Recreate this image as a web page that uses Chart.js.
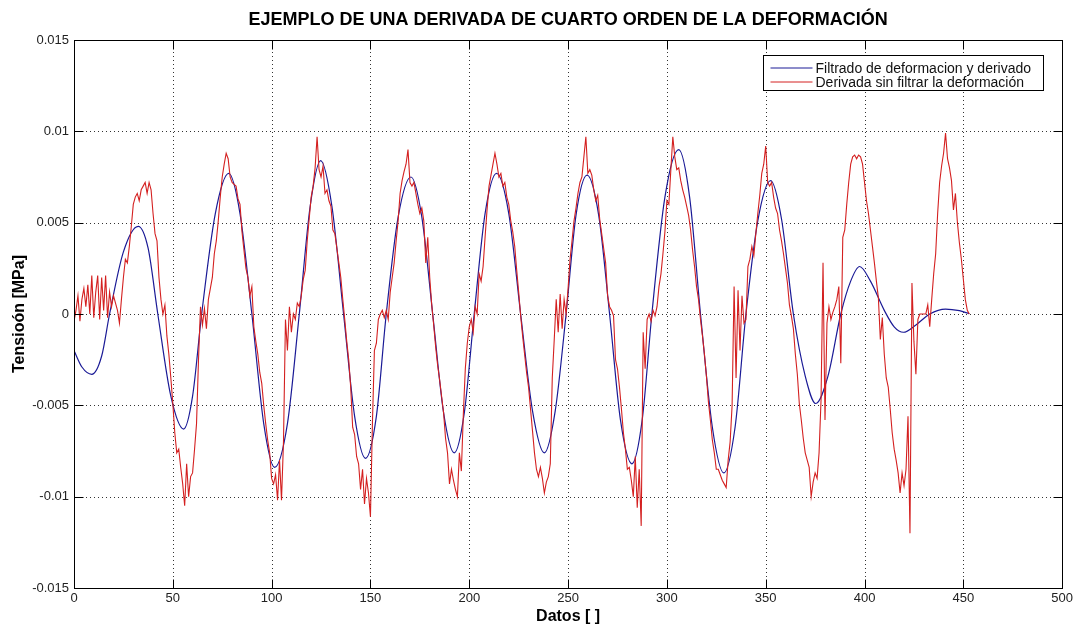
<!DOCTYPE html>
<html>
<head>
<meta charset="utf-8">
<script src="https://cdn.jsdelivr.net/npm/chart.js@4.4.1/dist/chart.umd.min.js"></script>
<style>
html,body{margin:0;padding:0;background:#fff;}
#wrap{width:1076px;height:624px;position:relative;}
</style>
</head>
<body>
<div id="wrap"><canvas id="c" width="1076" height="624"></canvas></div>
<script>
// ---------- DATA ----------
const chartTitle = 'EJEMPLO DE UNA DERIVADA DE CUARTO ORDEN DE LA DEFORMACIÓN';
const xAxisTitle = 'Datos [ ]';
const yAxisTitle = 'Tensioón [MPa]';
const seriesNames = ['Filtrado de deformacion y derivado', 'Derivada sin filtrar la deformación'];

const xTickValues = [0, 50, 100, 150, 200, 250, 300, 350, 400, 450, 500];
const xTickLabels = ['0', '50', '100', '150', '200', '250', '300', '350', '400', '450', '500'];
const yTickValues = [-0.015, -0.01, -0.005, 0, 0.005, 0.01, 0.015];
const yTickLabels = ['-0.015', '-0.01', '-0.005', '0', '0.005', '0.01', '0.015'];

// Filtered (blue) series: sample positions and values
const blueX = [0, 4, 9, 14, 18, 25, 32.5, 37.5, 42.4, 49, 55.5, 60, 64.6, 71.5, 78.3, 84, 90, 96, 101.5, 108, 114,
  119.5, 124.8, 130.5, 136.4, 142, 147.5, 153, 158, 164, 170.5, 176, 181.5, 187, 192.4, 197.5, 202.5, 208, 213.8, 220,
  226, 232, 238, 243.5, 249, 254, 259.6, 265.5, 271, 276.5, 282.3, 287.5, 292.4, 299, 306, 311.5, 317, 323, 328.8,
  334.5, 340, 346, 352.5, 358, 364, 370, 375.3, 381.5, 388, 393, 397.5, 403, 410, 415, 419.7, 426, 433, 441, 448, 453];
const blueY = [-0.0020, -0.0029, -0.0033, -0.0023, 0, 0.0034, 0.0048, 0.0036, 0, -0.0045, -0.0063, -0.0045, 0, 0.0055,
  0.0077, 0.0055, 0, -0.0060, -0.0084, -0.0060, 0, 0.0059, 0.0084, 0.0059, 0, -0.0056, -0.0079, -0.0056, 0, 0.0053,
  0.0075, 0.0053, 0, -0.0054, -0.0076, -0.0054, 0, 0.0055, 0.0077, 0.0055, 0, -0.0053, -0.0076, -0.0053, 0, 0.0054,
  0.0076, 0.0054, 0, -0.0058, -0.0082, -0.0058, 0, 0.0064, 0.0090, 0.0064, 0, -0.0062, -0.0087, -0.0062, 0, 0.0051,
  0.0073, 0.0052, 0, -0.0034, -0.0049, -0.0034, 0, 0.0018, 0.0026, 0.0018, 0.0002, -0.0007, -0.0010, -0.0006, 0,
  0.00027, 0.00018, 0.00002];

// Unfiltered (red) series: one value per sample index 0..453
const redY = [
  -0.0004, 0.0002, 0.0010, -0.0004, 0.0008, 0.0014, 0.0004, 0.0016, 0, 0.0021,
  -0.0002, 0.0012, 0.0021, -0.0003, 0.0020, 0.0002, 0.0021, -0.0002, 0.0012, 0.0004,
  0.0010, 0.0006, 0.0002, -0.0005, 0.0008, 0.0020, 0.0030, 0.0028, 0.0037, 0.0048,
  0.0060, 0.0064, 0.0066, 0.0062, 0.0068, 0.0070, 0.0072, 0.0066, 0.0072, 0.0068,
  0.0055, 0.0044, 0.0040, 0.0020, 0.0008, 0, 0.0005, -0.0012, -0.0022, -0.0035,
  -0.0049, -0.0065, -0.0076, -0.0074, -0.0084, -0.0093, -0.0105, -0.0082, -0.0100, -0.0089,
  -0.0087, -0.0074, -0.0060, -0.0025, 0.0004, -0.0006, 0.0003, -0.0008, 0.0008, 0.0014,
  0.0020, 0.0033, 0.0040, 0.0051, 0.0064, 0.0075, 0.0082, 0.0088, 0.0085, 0.0075,
  0.0072, 0.0071, 0.0070, 0.0063, 0.0060, 0.0045, 0.0035, 0.0025, 0.0020, 0.0010,
  0.0015, -0.0007, -0.0015, -0.0022, -0.0032, -0.0038, -0.0050, -0.0060, -0.0069, -0.0076,
  -0.0090, -0.0093, -0.0088, -0.0102, -0.0080, -0.0102, -0.0070, -0.0003, -0.0020, 0.0004,
  -0.0010, 0, -0.0003, 0.0006, 0.0004, 0.0010, 0.0019, 0.0024, 0.0040, 0.0052,
  0.0064, 0.0070, 0.0080, 0.0097, 0.0079, 0.0075, 0.0081, 0.0066, 0.0068, 0.0062,
  0.0059, 0.0046, 0.0044, 0.0036, 0.0028, 0.0020, 0.0008, -0.0003, -0.0015, -0.0025,
  -0.0040, -0.0062, -0.0066, -0.0078, -0.0082, -0.0096, -0.0085, -0.0104, -0.0090, -0.0098,
  -0.0111, -0.0060, -0.0020, -0.0016, -0.0003, 0, 0.0002, -0.0002, 0.0002, -0.0003,
  0.0012, 0.0020, 0.0028, 0.0040, 0.0051, 0.0066, 0.0073, 0.0078, 0.0082, 0.0090,
  0.0072, 0.0070, 0.0072, 0.0066, 0.0060, 0.0055, 0.0058, 0.0051, 0.0028, 0.0042,
  0.0020, 0.0005, -0.0006, -0.0018, -0.0028, -0.0036, -0.0045, -0.0054, -0.0068, -0.0076,
  -0.0093, -0.0085, -0.0091, -0.0096, -0.0100, -0.0076, -0.0086, -0.0055, -0.0030, -0.0016,
  -0.0007, -0.0003, -0.0010, 0.0004, 0, 0.0022, 0.0018, 0.0026, 0.0042, 0.0057,
  0.0070, 0.0076, 0.0082, 0.0088, 0.0082, 0.0075, 0.0077, 0.0070, 0.0072, 0.0064,
  0.0060, 0.0051, 0.0045, 0.0037, 0.0024, 0.0012, -0.0001, -0.0012, -0.0022, -0.0032,
  -0.0040, -0.0052, -0.0064, -0.0076, -0.0085, -0.0089, -0.0084, -0.0090, -0.0098, -0.0092,
  -0.0089, -0.0082, -0.0035, -0.0014, 0.0008, -0.0010, 0.0011, -0.0008, 0.0008, 0,
  0.0014, 0.0030, 0.0040, 0.0051, 0.0058, 0.0066, 0.0072, 0.0075, 0.0086, 0.0097,
  0.0077, 0.0079, 0.0076, 0.0068, 0.0062, 0.0065, 0.0052, 0.0044, 0.0036, 0.0028,
  0.0010, 0.0004, 0.0002, -0.0001, -0.0025, -0.0030, -0.0040, -0.0052, -0.0065, -0.0074,
  -0.0085, -0.0084, -0.0091, -0.0100, -0.0078, -0.0106, -0.0085, -0.0116, -0.0010, -0.0030,
  -0.0003, 0, -0.0004, 0.0002, -0.0001, 0.0004, 0.0015, 0.0022, 0.0033, 0.0045,
  0.0062, 0.0060, 0.0079, 0.0097, 0.0086, 0.0079, 0.0080, 0.0073, 0.0068, 0.0064,
  0.0059, 0.0054, 0.0046, 0.0035, 0.0026, 0.0015, 0.0008, -0.0003, -0.0012, -0.0022,
  -0.0034, -0.0048, -0.0058, -0.0069, -0.0076, -0.0085, -0.0085, -0.0088, -0.0091, -0.0093,
  -0.0095, -0.0080, -0.0070, -0.0050, 0.0015, -0.0035, 0.0013, -0.0020, 0.0010, -0.0005,
  -0.0003, 0.0026, 0.0030, 0.0037, 0.0032, 0.0044, 0.0055, 0.0065, 0.0077, 0.0082,
  0.0092, 0.0072, 0.0070, 0.0072, 0.0064, 0.0058, 0.0055, 0.0046, 0.0040, 0.0033,
  0.0025, 0.0017, 0.0005, -0.0001, -0.0008, -0.0022, -0.0033, -0.0049, -0.0058, -0.0068,
  -0.0076, -0.0080, -0.0084, -0.0100, -0.0092, -0.0087, -0.0090, -0.0076, -0.0047, 0.0028,
  -0.0058, -0.0005, 0.0004, -0.0003, 0.0001, 0.0004, 0.0008, 0.0015, -0.0027, 0.0042,
  0.0046, 0.0060, 0.0072, 0.0082, 0.0086, 0.0087, 0.0085, 0.0087, 0.0086, 0.0082,
  0.0072, 0.0062, 0.0055, 0.0046, 0.0037, 0.0028, 0.0018, 0.0009, -0.0014, -0.0002,
  -0.0022, -0.0035, -0.0040, -0.0052, -0.0065, -0.0074, -0.0080, -0.0087, -0.0098, -0.0087,
  -0.0094, -0.0085, -0.0056, -0.0120, 0.0017, -0.0015, -0.0033, -0.0003, 0, 0,
  0, 0, 0.0005, -0.0007, 0.0008, 0.0022, 0.0033, 0.0055, 0.0072, 0.0081,
  0.0088, 0.0099, 0.0085, 0.0080, 0.0073, 0.0057, 0.0066, 0.0050, 0.0039, 0.0030,
  0.0019, 0.0008, 0.0002, 0
];

const seriesColors = ['#1a1a96', '#d42020'];

// ---------- CHART ----------
const FONT = '"Liberation Sans", Arial, Helvetica, sans-serif';

const frame = {
  id: 'matlabFrame',
  beforeDatasetsDraw(chart) {
    const {ctx, chartArea: a, scales: {x, y}} = chart;
    ctx.save();
    ctx.strokeStyle = '#333';
    ctx.lineWidth = 1;
    ctx.setLineDash([1, 3]);
    xTickValues.forEach(v => {
      const px = Math.round(x.getPixelForValue(v)) + 0.5;
      if (px <= a.left + 1 || px >= a.right - 1) return;
      ctx.beginPath(); ctx.moveTo(px, a.top); ctx.lineTo(px, a.bottom); ctx.stroke();
    });
    yTickValues.forEach(v => {
      const py = Math.round(y.getPixelForValue(v)) + 0.5;
      if (py <= a.top + 1 || py >= a.bottom - 1) return;
      ctx.beginPath(); ctx.moveTo(a.left, py); ctx.lineTo(a.right, py); ctx.stroke();
    });
    ctx.restore();
  },
  afterDatasetsDraw(chart) {
    const {ctx, chartArea: a, scales: {x, y}} = chart;
    ctx.save();
    ctx.strokeStyle = '#000';
    ctx.lineWidth = 1;
    ctx.setLineDash([]);
    const L = Math.round(a.left) + 0.5, R = Math.round(a.right) + 0.5;
    const T = Math.round(a.top) + 0.5, B = Math.round(a.bottom) + 0.5;
    ctx.strokeRect(L, T, R - L, B - T);
    const tl = 9;
    ctx.beginPath();
    xTickValues.forEach(v => {
      const px = Math.round(x.getPixelForValue(v)) + 0.5;
      ctx.moveTo(px, B); ctx.lineTo(px, B - tl);
      ctx.moveTo(px, T); ctx.lineTo(px, T + tl);
    });
    yTickValues.forEach(v => {
      const py = Math.round(y.getPixelForValue(v)) + 0.5;
      ctx.moveTo(L, py); ctx.lineTo(L + tl, py);
      ctx.moveTo(R, py); ctx.lineTo(R - tl, py);
    });
    ctx.stroke();

    // legend
    const lx = 763.5, ly = 55.5, lw = 280, lh = 35;
    ctx.fillStyle = '#fff';
    ctx.fillRect(lx, ly, lw, lh);
    ctx.strokeRect(lx, ly, lw, lh);
    ctx.font = '14px ' + FONT;
    ctx.textBaseline = 'middle';
    ctx.textAlign = 'left';
    chart.data.datasets.slice().sort((p, q) => p.legendIndex - q.legendIndex).forEach((ds, i) => {
      const yy = ly + 12.5 + i * 14;
      ctx.strokeStyle = ds.borderColor;
      ctx.beginPath(); ctx.moveTo(lx + 7, yy); ctx.lineTo(lx + 49, yy); ctx.stroke();
      ctx.fillStyle = '#111';
      ctx.fillText(ds.label, lx + 52, yy + 1);
    });

    // titles
    ctx.fillStyle = '#000';
    ctx.textAlign = 'center';
    ctx.textBaseline = 'middle';
    ctx.font = 'bold 18px ' + FONT;
    ctx.fillText(chartTitle, (a.left + a.right) / 2, 20);
    ctx.font = 'bold 16px ' + FONT;
    ctx.fillText(xAxisTitle, (a.left + a.right) / 2, 617);
    ctx.translate(20, (a.top + a.bottom) / 2);
    ctx.rotate(-Math.PI / 2);
    ctx.fillText(yAxisTitle, 0, 0);
    ctx.restore();
  }
};

new Chart(document.getElementById('c'), {
  type: 'line',
  data: {
    datasets: [
      {
        label: seriesNames[1],
        legendIndex: 1,
        data: redY.map((v, i) => ({x: i, y: v})),
        borderColor: seriesColors[1],
        borderWidth: 1.1,
        pointRadius: 0,
        tension: 0,
        fill: false,
        order: 1
      },
      {
        label: seriesNames[0],
        legendIndex: 0,
        data: blueX.map((v, i) => ({x: v, y: blueY[i]})),
        borderColor: seriesColors[0],
        borderWidth: 1.2,
        pointRadius: 0,
        cubicInterpolationMode: 'monotone',
        fill: false,
        order: 2
      }
    ]
  },
  options: {
    responsive: false,
    animation: false,
    devicePixelRatio: 1,
    layout: {padding: {left: 0, right: 12, top: 40, bottom: 0}},
    plugins: {legend: {display: false}, tooltip: {enabled: false}, title: {display: false}},
    scales: {
      x: {
        type: 'linear', min: 0, max: 500,
        afterBuildTicks: s => { s.ticks = xTickValues.map(v => ({value: v})); },
        afterFit: s => { s.height = 36; },
        grid: {display: false, drawTicks: false},
        border: {display: false},
        ticks: {
          callback: (v, i) => xTickLabels[i],
          font: {family: FONT, size: 13}, color: '#222', padding: 3, maxRotation: 0, autoSkip: false
        }
      },
      y: {
        type: 'linear', min: -0.015, max: 0.015,
        afterBuildTicks: s => { s.ticks = yTickValues.map(v => ({value: v})); },
        afterFit: s => { s.width = 74; },
        grid: {display: false, drawTicks: false},
        border: {display: false},
        ticks: {
          callback: (v, i) => yTickLabels[i],
          font: {family: FONT, size: 13}, color: '#222', padding: 5, autoSkip: false
        }
      }
    }
  },
  plugins: [frame]
});
</script>
</body>
</html>
